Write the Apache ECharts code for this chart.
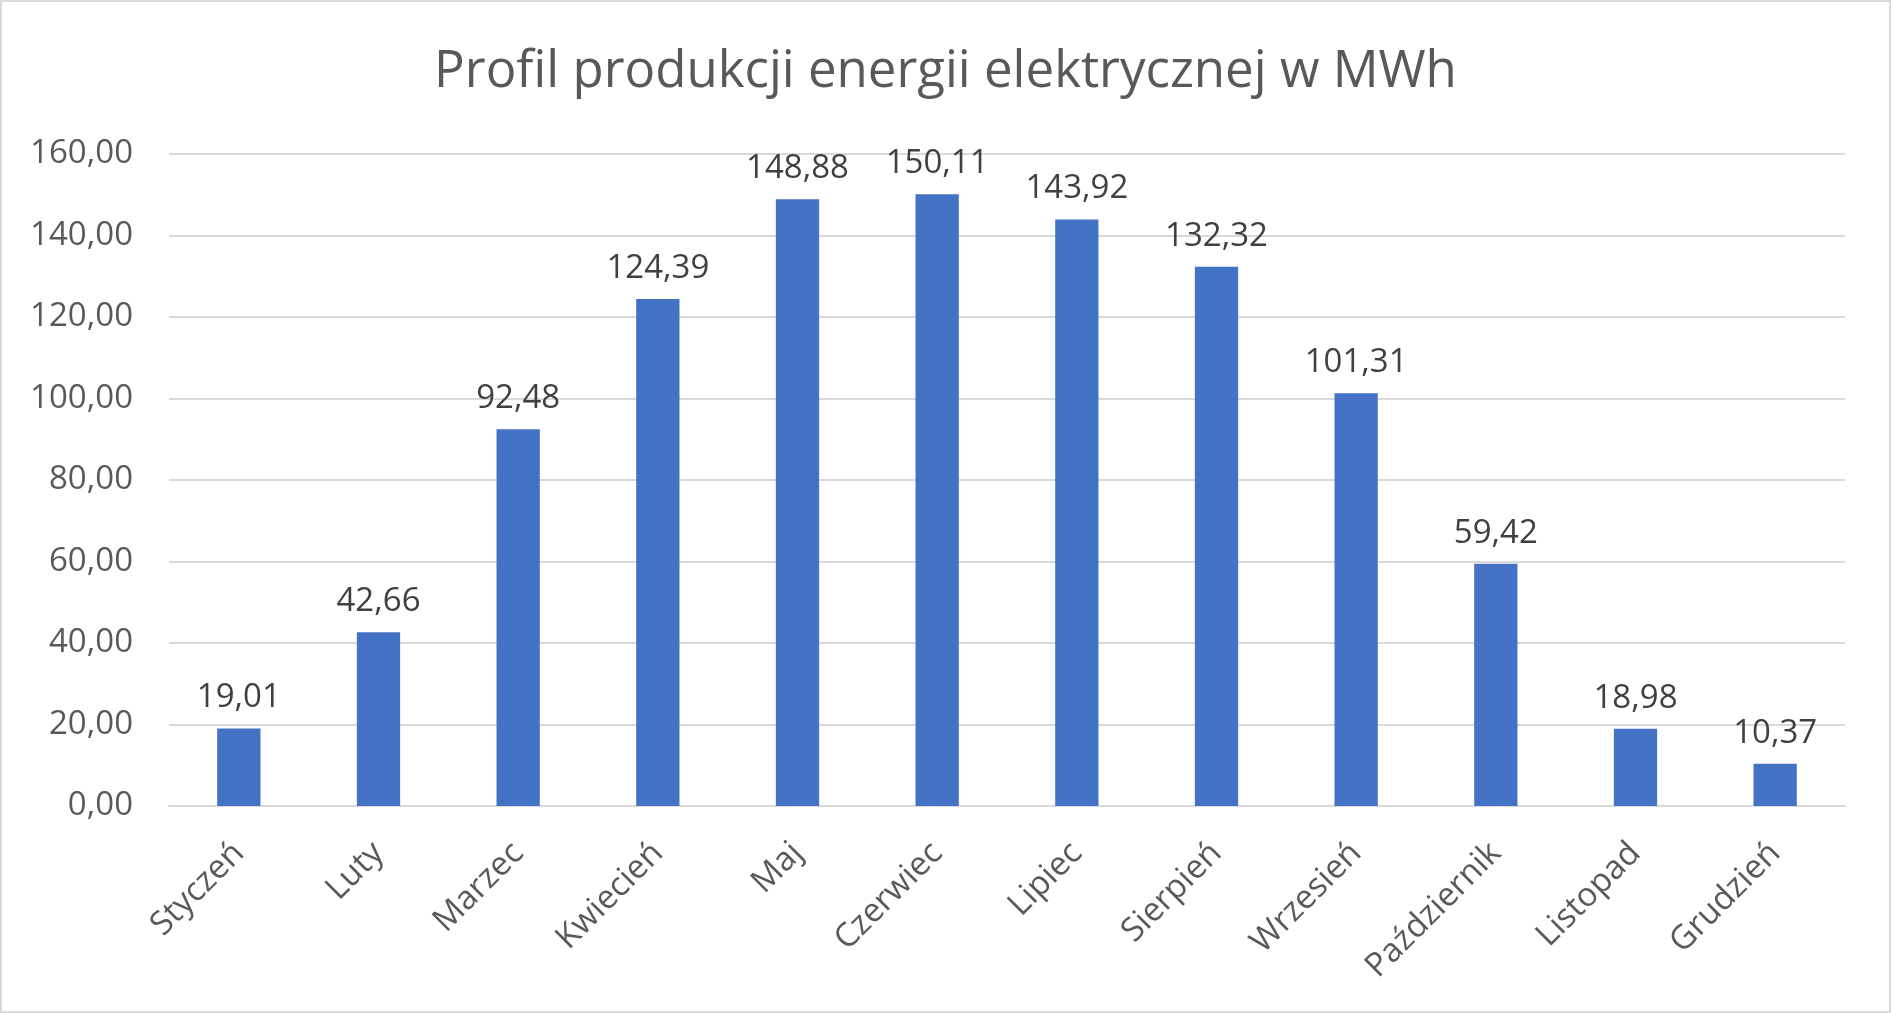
<!DOCTYPE html>
<html>
<head>
<meta charset="utf-8">
<script src="https://cdn.jsdelivr.net/npm/echarts@6/dist/echarts.min.js"></script>
<style>
    html, body { margin: 0; padding: 0; background: #fff; }
    #chart { width: 1891px; height: 1013px; box-sizing: border-box; border: 2px solid #d9d9d9; }
</style>
</head>
<body>
<div id="chart"></div>
<script>
// dane
var months = ['Styczeń', 'Luty', 'Marzec', 'Kwiecień', 'Maj', 'Czerwiec', 'Lipiec',
    'Sierpień', 'Wrzesień', 'Październik', 'Listopad', 'Grudzień'];
var production = [19.01, 42.66, 92.48, 124.39, 148.88, 150.11, 143.92, 132.32, 101.31, 59.42, 18.98, 10.37];
var yTicks = [0, 20, 40, 60, 80, 100, 120, 140, 160];

// format z przecinkiem
var fmt = function (v) {
    return Number(v).toFixed(2).replace('.', ',');
};

var chart = echarts.init(document.getElementById('chart'));
var font = '"Open Sans", sans-serif';

var option = {
    animation: false,
    backgroundColor: '#fff',
    title: {
        text: 'Profil produkcji energii elektrycznej w MWh',
        left: 'center',
        top: 40,
        textStyle: { fontFamily: font, fontSize: 51, fontWeight: 'normal', color: '#595959' }
    },
    grid: { left: 167, right: 44, top: 152, bottom: 205 },
    xAxis: {
        type: 'category',
        data: months,
        axisLine: { lineStyle: { color: '#d9d9d9', width: 2 } },
        axisTick: { show: false },
        axisLabel: {
            rotate: 45,
            margin: 42,
            fontFamily: font,
            fontSize: 33,
            color: '#595959'
        }
    },
    yAxis: {
        type: 'value',
        min: yTicks[0],
        max: yTicks[yTicks.length - 1],
        interval: 20,
        axisLine: { show: false },
        axisTick: { show: false },
        splitLine: { lineStyle: { color: '#d9d9d9', width: 2 } },
        axisLabel: {
            margin: 36,
            fontFamily: font,
            fontSize: 33,
            color: '#595959',
            formatter: fmt
        }
    },
    series: [{
        type: 'bar',
        data: production,
        barWidth: '31%',
        itemStyle: { color: '#4472c4' },
        label: {
            show: true,
            position: 'top',
            distance: 14,
            fontFamily: font,
            fontSize: 33,
            color: '#404040',
            formatter: function (p) { return fmt(p.value); }
        }
    }]
};

chart.setOption(option);
</script>
</body>
</html>
